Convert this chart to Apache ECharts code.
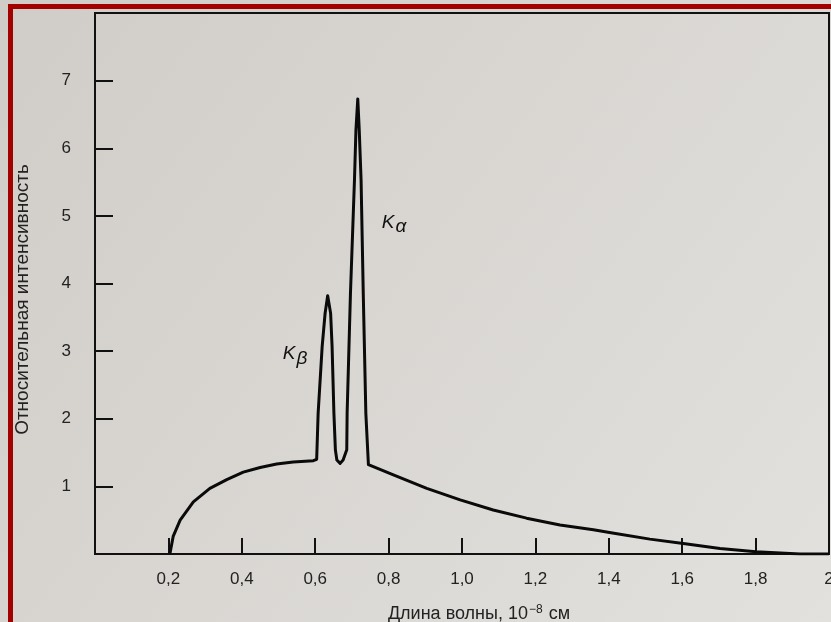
<!DOCTYPE html>
<html>
<head>
<meta charset="utf-8">
<script src="https://cdn.jsdelivr.net/npm/echarts@6/dist/echarts.min.js"></script>
<style>
  html, body { margin: 0; padding: 0; }
  #chart { width: 831px; height: 622px; }
</style>
</head>
<body>
<div id="chart"></div>
<script>
// длина волны, 10^-8 см  -> относительная интенсивность
let wave = [0.204, 0.213, 0.232, 0.268, 0.313, 0.359, 0.404, 0.450, 0.495, 0.540, 0.595, 0.600,
            0.604, 0.608, 0.619, 0.627, 0.634, 0.642, 0.646, 0.651, 0.655,
            0.659, 0.668, 0.676,
            0.686, 0.687, 0.696, 0.707, 0.711, 0.716, 0.720, 0.725, 0.731, 0.738, 0.745,
            0.813, 0.904, 0.995, 1.085, 1.176, 1.267, 1.358, 1.41, 1.512, 1.608, 1.703, 1.801, 1.921, 2.0];
let inten = [0, 0.26, 0.50, 0.77, 0.97, 1.10, 1.21, 1.28, 1.33, 1.36, 1.38, 1.39,
             1.40, 2.08, 3.07, 3.56, 3.82, 3.56, 3.07, 2.08, 1.54,
             1.39, 1.34, 1.39,
             1.54, 2.08, 3.84, 5.53, 6.27, 6.73, 6.27, 5.53, 3.84, 2.08, 1.32,
             1.17, 0.97, 0.80, 0.65, 0.53, 0.43, 0.36, 0.31, 0.22, 0.15, 0.08, 0.035, 0.0, 0.0];
let xTicks = [0.2, 0.4, 0.6, 0.8, 1.0, 1.2, 1.4, 1.6, 1.8, 2];
let yTicks = [1, 2, 3, 4, 5, 6, 7];
// подписи линий
let lineNames = ['α', 'β'];
let linePos = [[0.815, 4.9], [0.545, 2.96]];

let points = wave.map(function (w, i) { return [w, inten[i]]; });

let font = '"Liberation Sans", Arial, sans-serif';

let option = {
    backgroundColor: {
        type: 'linear', x: 0, y: 0, x2: 1, y2: 1,
        colorStops: [{ offset: 0, color: '#d0cdc9' }, { offset: 1, color: '#e3e1dd' }]
    },
    animation: false,
    textStyle: { fontFamily: font },
    graphic: [{
        type: 'rect',
        shape: { x: 10.5, y: 6.5, width: 1000, height: 800 },
        style: { fill: 'none', stroke: '#a30000', lineWidth: 5 },
        silent: true
    }],
    grid: {
        left: 95, right: 2, top: 13, bottom: 68,
        outerBoundsMode: 'none', containLabel: false,
        show: true, borderColor: '#111', borderWidth: 2
    },
    xAxis: {
        type: 'value', min: 0, max: 2, interval: 0.2,
        name: '{t|Длина волны, 10}{s|−8}{t| см}',
        nameLocation: 'middle', nameGap: 50,
        nameTextStyle: {
            padding: [0, 0, 0, 34],
            rich: {
                t: { fontSize: 18, color: '#222', fontFamily: font },
                s: { fontSize: 12, color: '#222', fontFamily: font, padding: [0, 1, 9, 1] }
            }
        },
        axisLine: { show: true, lineStyle: { color: '#111', width: 2 } },
        axisTick: { show: true, inside: true, length: 16, lineStyle: { color: '#111', width: 2 } },
        splitLine: { show: false },
        axisLabel: {
            color: '#222', fontSize: 17, margin: 17,
            formatter: function (v) {
                let hit = xTicks.find(function (t) { return Math.abs(t - v) < 1e-6; });
                if (hit === undefined) return '';
                return hit === 2 ? '2' : hit.toFixed(1).replace('.', ',');
            }
        }
    },
    yAxis: {
        type: 'value', min: 0, max: 8, interval: 1,
        name: 'Относительная интенсивность',
        nameLocation: 'middle', nameGap: 63, nameRotate: 90,
        nameTextStyle: { color: '#222', fontSize: 19, padding: [0, 32, 0, 0] },
        axisLine: { show: true, lineStyle: { color: '#111', width: 2 } },
        axisTick: { show: true, inside: true, length: 18, lineStyle: { color: '#111', width: 2 } },
        splitLine: { show: false },
        axisLabel: {
            color: '#222', fontSize: 17, margin: 24,
            formatter: function (v) { return yTicks.indexOf(v) >= 0 ? String(v) : ''; }
        }
    },
    series: [{
        type: 'line',
        data: points,
        showSymbol: false,
        smooth: false,
        lineStyle: { color: '#0a0a0a', width: 3, join: 'round' },
        markPoint: {
            symbol: 'circle', symbolSize: 0,
            data: lineNames.map(function (n, i) {
                return { coord: linePos[i], value: n };
            }),
            label: {
                show: true, position: 'inside',
                formatter: function (p) { return '{k|K}{s|' + p.value + '}'; },
                rich: {
                    k: { fontSize: 19, fontStyle: 'italic', color: '#111', fontFamily: font },
                    s: { fontSize: 19, fontStyle: 'italic', color: '#111', fontFamily: font, padding: [9, 0, 0, 1] }
                }
            }
        }
    }]
};

let myChart = echarts.init(document.getElementById('chart'));
myChart.setOption(option);
</script>
</body>
</html>
